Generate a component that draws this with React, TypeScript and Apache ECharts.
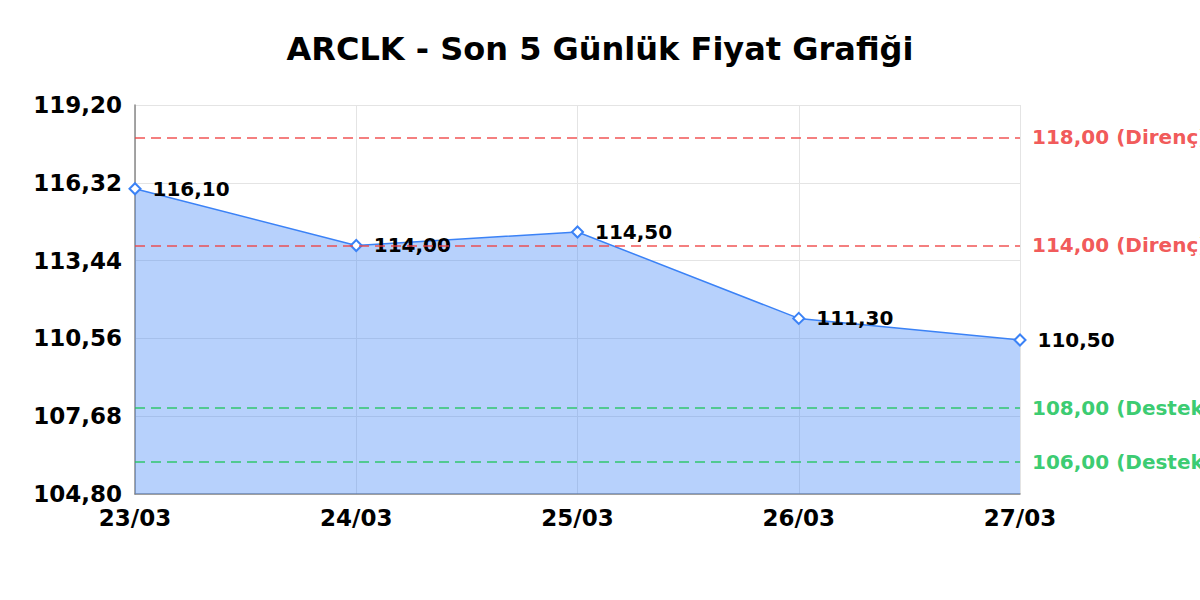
import * as echarts from 'echarts'
import { useEffect, useRef } from 'react'

const dates = ['23/03', '24/03', '25/03', '26/03', '27/03']
const prices = [116.1, 114.0, 114.5, 111.3, 110.5]
const resistance = [118, 114]
const support = [108, 106]

const FONT = '"DejaVu Sans", sans-serif'
const fmt = (v: number) => v.toFixed(2).replace('.', ',')

const App = () => {
  const ref = useRef<HTMLDivElement>(null)

  useEffect(() => {
    if (!ref.current) return
    const chart = echarts.init(ref.current, undefined, { renderer: 'svg' })

    const levelLine = (value: number, kind: string, color: string) => ({
      yAxis: value,
      lineStyle: { color, type: [10, 6], width: 1.5, opacity: 0.9 },
      label: {
        show: true,
        position: 'end',
        distance: 12,
        color,
        fontFamily: FONT,
        fontWeight: 'bold',
        fontSize: 20,
        formatter: `${fmt(value)} (${kind})`
      }
    })

    chart.setOption({
      animation: false,
      title: {
        text: 'ARCLK - Son 5 Günlük Fiyat Grafiği',
        left: 'center',
        top: 28,
        textStyle: { fontFamily: FONT, fontWeight: 'bold', fontSize: 32, color: '#000' }
      },
      grid: { left: 135, right: 180, top: 105, bottom: 106 },
      xAxis: {
        type: 'category',
        data: dates,
        boundaryGap: false,
        axisLine: { lineStyle: { color: '#888', width: 1.5 } },
        axisTick: { show: false },
        splitLine: { show: true, lineStyle: { color: '#e4e4e4' } },
        axisLabel: { fontFamily: FONT, fontWeight: 'bold', fontSize: 23, color: '#000', margin: 12 }
      },
      yAxis: {
        type: 'value',
        min: 104.8,
        max: 119.2,
        interval: 2.88,
        axisLine: { show: true, lineStyle: { color: '#888', width: 1.5 } },
        axisTick: { show: false },
        splitLine: { lineStyle: { color: '#e4e4e4' } },
        axisLabel: {
          fontFamily: FONT,
          fontWeight: 'bold',
          fontSize: 23,
          color: '#000',
          margin: 13,
          formatter: (v: number) => fmt(v)
        }
      },
      series: [
        {
          type: 'line',
          data: prices,
          symbol: 'diamond',
          symbolSize: 11,
          lineStyle: { color: '#3b82f6', width: 1.5 },
          itemStyle: { color: '#fff', borderColor: '#3b82f6', borderWidth: 2 },
          areaStyle: { color: '#3b82f6', opacity: 0.37, origin: 'start' },
          label: {
            show: true,
            position: 'right',
            distance: 11,
            fontFamily: FONT,
            fontWeight: 'bold',
            fontSize: 20,
            color: '#000',
            formatter: (p: { value: number }) => fmt(p.value)
          },
          markLine: {
            silent: true,
            symbol: 'none',
            data: [
              ...resistance.map((v) => levelLine(v, 'Direnç', '#ef4444')),
              ...support.map((v) => levelLine(v, 'Destek', '#22c55e'))
            ]
          }
        }
      ]
    })

    return () => chart.dispose()
  }, [])

  return (
    <div
      ref={ref}
      style={{ position: 'absolute', left: 0, top: 0, width: 1200, height: 600, background: '#fff' }}
    />
  )
}

export default App
